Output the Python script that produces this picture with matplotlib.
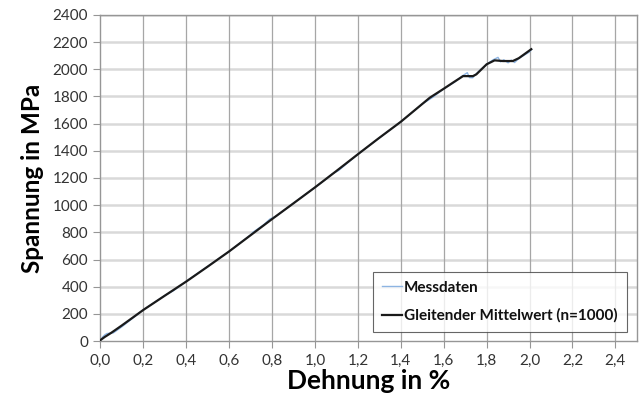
"""Spannungs-Dehnungs-Kurve mit gleitendem Mittelwert"""

import matplotlib.pyplot as plt
from matplotlib.ticker import FuncFormatter

# Messdaten (Dehnung in %, Spannung in MPa)
mess_dehnung = [0.0, 0.01, 0.02, 0.03, 0.045, 0.06, 0.1, 0.2, 0.3, 0.34, 0.37, 0.4, 0.42,
                0.5, 0.6, 0.7, 0.71, 0.76, 0.79, 0.82, 0.9, 1.0, 1.05, 1.08, 1.11, 1.2,
                1.3, 1.4, 1.5, 1.55, 1.6, 1.65, 1.69, 1.71, 1.72, 1.735, 1.75, 1.77,
                1.8, 1.83, 1.853, 1.865, 1.88, 1.9, 1.915, 1.93, 1.95, 2.0, 2.01]
mess_spannung = [5, 30, 45, 55, 58, 60, 105, 230, 335, 370, 405, 440, 462,
                 550, 660, 782, 800, 855, 898, 920, 1015, 1131, 1190, 1230, 1255, 1375,
                 1495, 1614, 1745, 1795, 1857, 1905, 1955, 1975, 1939, 1938, 1965, 1995,
                 2037, 2070, 2088, 2055, 2070, 2048, 2068, 2050, 2080, 2128, 2148]

# Gleitender Mittelwert (n=1000)
mittel_dehnung = [0.0, 0.02, 0.05, 0.1, 0.2, 0.3, 0.4, 0.5, 0.6, 0.7, 0.8, 0.9, 1.0,
                  1.1, 1.2, 1.294, 1.4, 1.535, 1.6, 1.643, 1.69, 1.736, 1.752, 1.8,
                  1.837, 1.876, 1.922, 1.95, 2.008]
mittel_spannung = [7, 30, 60, 115, 229, 334, 438, 548, 660, 779, 898, 1014, 1131,
                   1252, 1375, 1489, 1614, 1791, 1857, 1902, 1950, 1950, 1963, 2037,
                   2066, 2061, 2061, 2082, 2148]

x_ticks = [0.0, 0.2, 0.4, 0.6, 0.8, 1.0, 1.2, 1.4, 1.6, 1.8, 2.0, 2.2, 2.4]
y_ticks = list(range(0, 2401, 200))

plt.rcParams['font.family'] = ['Lato', 'DejaVu Sans']

fig = plt.figure(figsize=(6.4, 4.05), dpi=100)
ax = fig.add_axes([0.157, 0.158, 0.838, 0.805])

ax.plot(mess_dehnung, mess_spannung, color='#8db4e2', linewidth=1.0, label='Messdaten', zorder=3)
ax.plot(mittel_dehnung, mittel_spannung, color='#1a1a1a', linewidth=1.6,
        label='Gleitender Mittelwert (n=1000)', zorder=4)

ax.set_xlim(0, 2.5)
ax.set_ylim(0, 2400)
ax.set_xticks(x_ticks)
ax.set_yticks(y_ticks)
ax.xaxis.set_major_formatter(FuncFormatter(lambda v, _: f'{v:.1f}'.replace('.', ',')))

# Gitterlinien: waagerecht hell, senkrecht dunkler
for y in y_ticks[1:]:
    ax.axhline(y, color='#d9d9d9', linewidth=1.8, zorder=1)
for x in x_ticks[1:]:
    ax.axvline(x, color='#a6a6a6', linewidth=0.9, zorder=1)

for side in ['top', 'right', 'bottom', 'left']:
    ax.spines[side].set_color('#969696')
    ax.spines[side].set_linewidth(1.0)

ax.tick_params(axis='both', direction='out', length=5, color='#969696',
               labelsize=11, labelcolor='#333333', pad=4)

ax.set_xlabel('Dehnung in %', fontsize=19, fontweight='bold', labelpad=1)
ax.set_ylabel('Spannung in MPa', fontsize=17.5, fontweight='bold', labelpad=6)

leg = ax.legend(loc='lower right', fontsize=11, frameon=True, fancybox=False,
                handlelength=1.3, handletextpad=0.1, borderpad=0.6, labelspacing=0.9,
                borderaxespad=0, bbox_to_anchor=(0.981, 0.027))
leg.get_frame().set_edgecolor('#404040')
leg.get_frame().set_linewidth(0.8)
for t in leg.get_texts():
    t.set_fontweight('bold')
    t.set_color('#111111')

fig.savefig('out.png', dpi=100)
